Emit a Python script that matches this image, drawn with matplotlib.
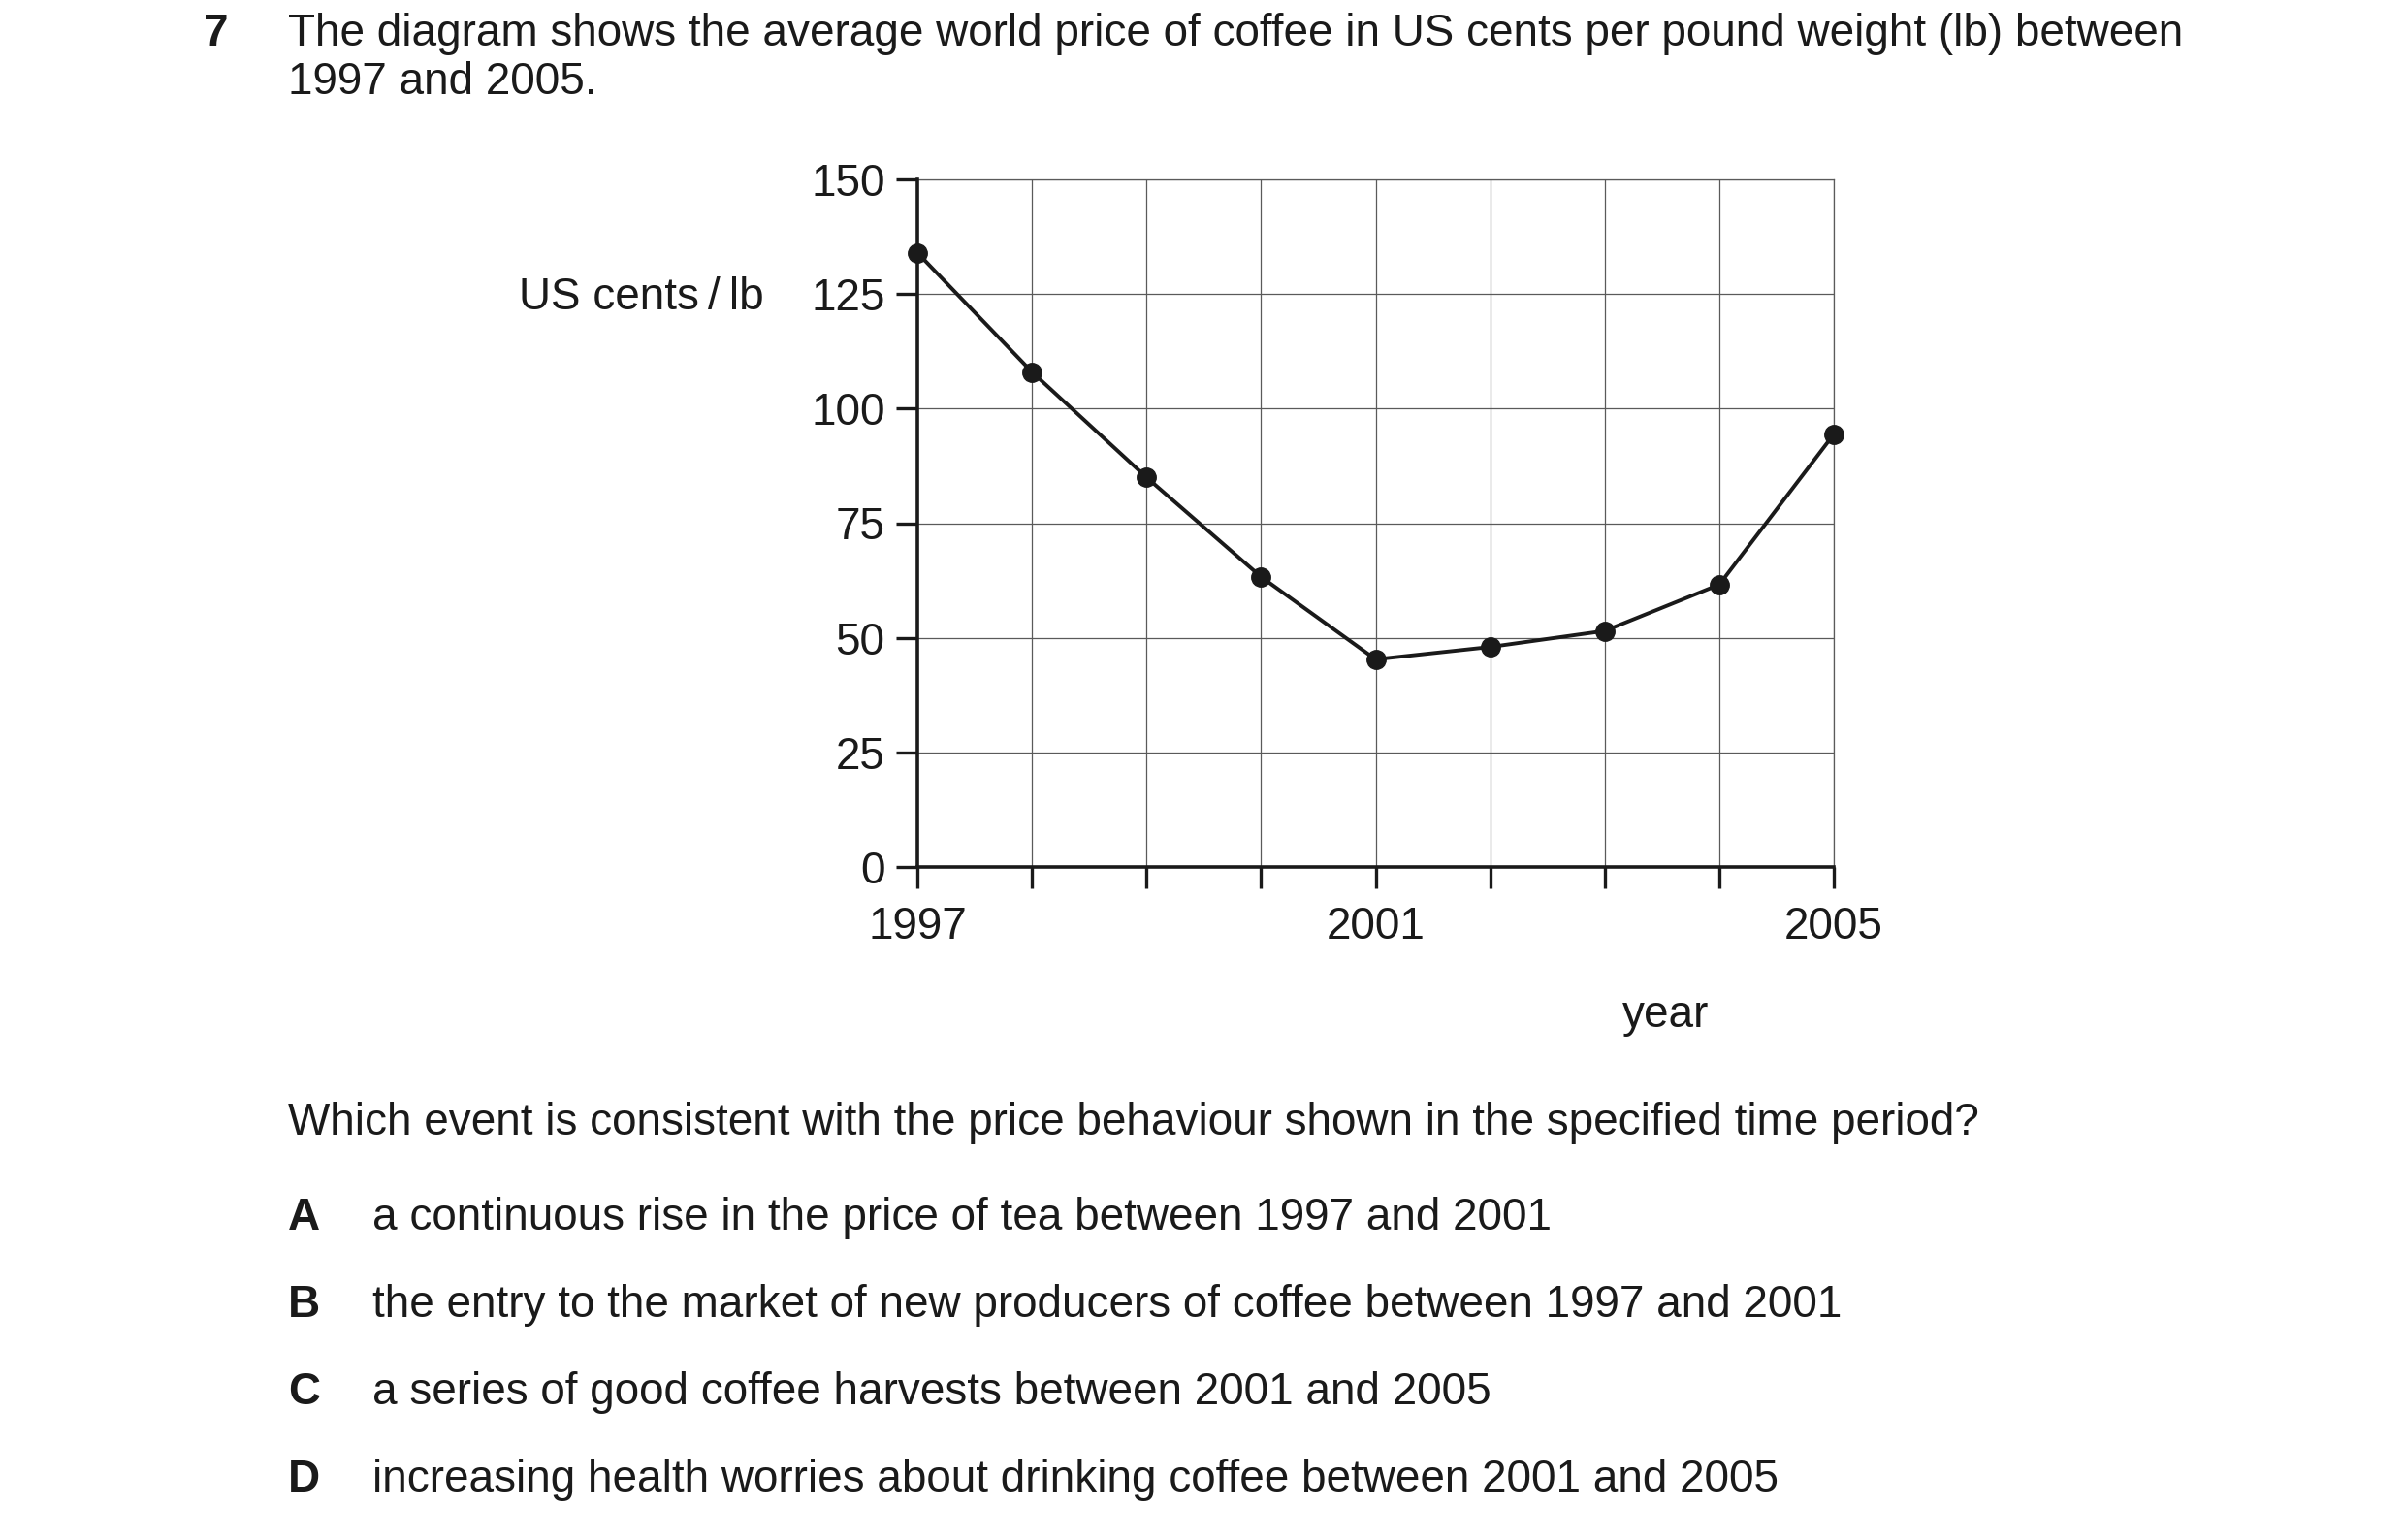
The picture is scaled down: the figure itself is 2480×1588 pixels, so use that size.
import matplotlib
matplotlib.use("Agg")
import matplotlib.pyplot as plt

plt.rcParams['font.family'] = ['Liberation Sans', 'DejaVu Sans']

# data
years = [1997, 1998, 1999, 2000, 2001, 2002, 2003, 2004, 2005]
price = [134, 108, 85, 63.3, 45.3, 48, 51.5, 61.6, 94.4]
y_ticks = [0, 25, 50, 75, 100, 125, 150]
x_labels = {1997: "1997", 2001: "2001", 2005: "2005"}

question = "Which event is consistent with the price behaviour shown in the specified time period?"
options = [
    ("A", "a continuous rise in the price of tea between 1997 and 2001"),
    ("B", "the entry to the market of new producers of coffee between 1997 and 2001"),
    ("C", "a series of good coffee harvests between 2001 and 2005"),
    ("D", "increasing health worries about drinking coffee between 2001 and 2005"),
]

W, H = 2480, 1588
fig = plt.figure(figsize=(W / 100, H / 100), dpi=100)
fs = 33

def px(x, y):
    # pixel position (from top-left) to figure fraction
    return x / W, 1 - y / H

# axes box in pixels
left, right, top, bottom = 946, 1891, 185, 894
ax = fig.add_axes([left / W, 1 - bottom / H, (right - left) / W, (bottom - top) / H])

ax.plot(years, price, color="#1a1a1a", lw=2.8, marker="o", ms=14, zorder=3, clip_on=False)

ax.set_xlim(1997, 2005)
ax.set_ylim(0, 150)
ax.set_xticks(years)
ax.set_xticklabels([x_labels.get(y, "") for y in years])
ax.set_yticks(y_ticks)
ax.grid(True, color="#5a5a5a", lw=0.9)
ax.set_axisbelow(True)

for s in ["top", "right"]:
    ax.spines[s].set_color("#5a5a5a")
    ax.spines[s].set_linewidth(0.9)
for s in ["left", "bottom"]:
    ax.spines[s].set_color("#1a1a1a")
    ax.spines[s].set_linewidth(2.6)
    ax.spines[s].set_zorder(4)

ax.tick_params(axis="both", direction="out", length=16, width=2.4, color="#1a1a1a",
               labelsize=fs, labelcolor="#1a1a1a")
ax.tick_params(axis="y", pad=8)
ax.tick_params(axis="x", pad=13)

txt = dict(fontsize=fs, color="#1a1a1a", va="center")

fig.text(*px(210, 35), "7", fontweight="bold", ha="left", **txt)
fig.text(*px(297, 35), "The diagram shows the average world price of coffee in US cents per pound weight (lb) between",
         ha="left", **txt)
fig.text(*px(297, 85), "1997 and 2005.", ha="left", **txt)

fig.text(*px(535, 307), "US cents\u2009/\u2009lb", ha="left", **txt)
fig.text(*px(1718, 1047), "year", ha="center", **txt)

fig.text(*px(297, 1158), question, ha="left", **txt)
rows = [1256, 1346, 1436, 1526]
for (letter, label), y in zip(options, rows):
    fig.text(*px(297, y), letter, fontweight="bold", ha="left", **txt)
    fig.text(*px(384, y), label, ha="left", **txt)

fig.savefig("out.png", dpi=100, facecolor="white")
